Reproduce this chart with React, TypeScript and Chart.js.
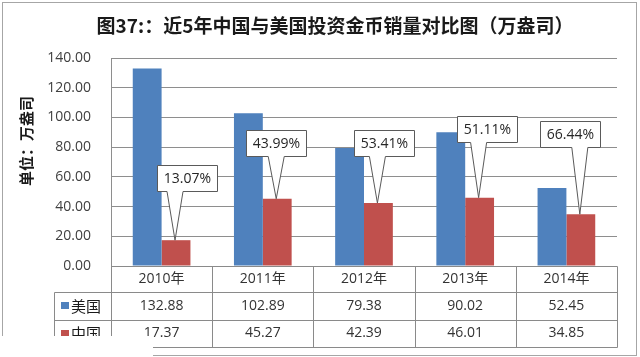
import { useEffect, useRef } from 'react';
import { Chart, registerables } from 'chart.js';

Chart.register(...registerables);

const titleText = '图37:：近5年中国与美国投资金币销量对比图（万盎司）';
const yAxisTitle = '单位：万盎司';
const categories = ['2010年', '2011年', '2012年', '2013年', '2014年'];
const seriesNames = ['美国', '中国'];
const usValues = [132.88, 102.89, 79.38, 90.02, 52.45];
const cnValues = [17.37, 45.27, 42.39, 46.01, 34.85];
const ratioLabels = ['13.07%', '43.99%', '53.41%', '51.11%', '66.44%'];
const yMin = 0;
const yMax = 140;
const yStep = 20;

// callout placement (box centre in axis units, horizontal offset in px from the bar)
const calloutBoxValue = [59.3, 82.7, 82.9, 92.3, 88.6];
const calloutDx = [10.5, -1, 5.7, 7.5, -11.3];

const BLUE = '#4F81BD';
const RED = '#C0504D';
const LATIN = "'Open Sans', 'Noto Sans CJK SC', sans-serif";
const CJK = "'Noto Sans CJK SC', 'Open Sans', sans-serif";
const LINE = '#8a8a8a';

const decorPlugin = {
  id: 'decor',
  beforeDraw(chart: any) {
    const ctx = chart.ctx;
    ctx.save();
    ctx.fillStyle = '#ffffff';
    ctx.fillRect(0, 0, chart.width, chart.height);
    ctx.restore();
  },
  afterDatasetsDraw(chart: any) {
    const ctx = chart.ctx;
    const ys = chart.scales.y;
    const meta = chart.getDatasetMeta(1);
    ctx.save();
    ctx.font = `14px ${LATIN}`;
    ctx.lineWidth = 1;
    ratioLabels.forEach((lab, i) => {
      const bar = meta.data[i];
      if (!bar) return;
      const tipX = bar.x - 1;
      const tipY = bar.y;
      const cx = bar.x + calloutDx[i];
      const cy = ys.getPixelForValue(calloutBoxValue[i]);
      const tw = ctx.measureText(lab).width;
      const w = Math.round(tw + 13);
      const h = 26;
      const l = Math.round(cx - w / 2) + 0.5;
      const t = Math.round(cy - h / 2) + 0.5;
      const r = l + w;
      const b = t + h;
      const bc = Math.min(Math.max(tipX, l + 9), r - 9);
      ctx.beginPath();
      ctx.moveTo(l, t);
      ctx.lineTo(r, t);
      ctx.lineTo(r, b);
      ctx.lineTo(bc + 8, b);
      ctx.lineTo(tipX, tipY);
      ctx.lineTo(bc - 8, b);
      ctx.lineTo(l, b);
      ctx.closePath();
      ctx.fillStyle = '#ffffff';
      ctx.fill();
      ctx.strokeStyle = '#5a5a5a';
      ctx.stroke();
      ctx.fillStyle = '#262626';
      ctx.textAlign = 'center';
      ctx.textBaseline = 'middle';
      ctx.fillText(lab, (l + r) / 2, (t + b) / 2 + 0.5);
    });
    ctx.restore();
  },
  afterDraw(chart: any) {
    const ctx = chart.ctx;
    const area = chart.chartArea;
    const xs = chart.scales.x;
    ctx.save();

    // outer frame
    ctx.strokeStyle = '#a6a6a6';
    ctx.lineWidth = 1;
    ctx.strokeRect(2.5, 2.5, 634, 353);

    // title
    ctx.fillStyle = '#1a1a1a';
    ctx.font = `bold 19px ${CJK}`;
    ctx.textAlign = 'center';
    ctx.textBaseline = 'middle';
    ctx.fillText(titleText, 335, 26);

    // y axis title
    ctx.save();
    ctx.translate(26, 141);
    ctx.rotate(-Math.PI / 2);
    ctx.font = `bold 15px ${CJK}`;
    ctx.fillStyle = '#1a1a1a';
    ctx.fillText(yAxisTitle, 0, 0);
    ctx.restore();

    // data table
    const n = categories.length;
    const cw = (area.right - area.left) / n;
    const top = area.bottom;
    const r1 = top + 26;
    const r2 = r1 + 28;
    const r3 = r2 + 27;
    const legL = 54.5;
    const right = Math.round(area.right) + 0.5;
    ctx.strokeStyle = LINE;
    ctx.lineWidth = 1;
    ctx.beginPath();
    ctx.moveTo(Math.round(area.left) + 0.5, Math.round(top) + 0.5);
    ctx.lineTo(right, Math.round(top) + 0.5);
    [r1, r2, r3].forEach((yy) => {
      ctx.moveTo(legL, Math.round(yy) + 0.5);
      ctx.lineTo(right, Math.round(yy) + 0.5);
    });
    ctx.moveTo(legL, Math.round(r1) + 0.5);
    ctx.lineTo(legL, Math.round(r3) + 0.5);
    for (let i = 0; i <= n; i++) {
      const x = Math.round(xs.getPixelForValue(0) - cw / 2 + i * cw) + 0.5;
      ctx.moveTo(x, Math.round(top) + 0.5);
      ctx.lineTo(x, Math.round(r3) + 0.5);
    }
    ctx.stroke();

    const rows = [usValues, cnValues];
    const colors = [BLUE, RED];
    const rowTops = [r1, r2];
    const rowBots = [r2, r3];
    rows.forEach((vals, k) => {
      const cy = (rowTops[k] + rowBots[k]) / 2;
      ctx.fillStyle = colors[k];
      ctx.fillRect(61, Math.round(cy) - 4, 8, 7);
      ctx.fillStyle = '#1a1a1a';
      ctx.font = `15px ${CJK}`;
      ctx.textAlign = 'left';
      ctx.textBaseline = 'middle';
      ctx.fillText(seriesNames[k], 71, cy);
      ctx.font = `14px ${LATIN}`;
      ctx.textAlign = 'center';
      ctx.fillStyle = '#333333';
      vals.forEach((v, i) => {
        ctx.fillText(v.toFixed(2), xs.getPixelForValue(i), cy);
      });
    });

    // watermark strip
    ctx.fillStyle = '#ffffff';
    ctx.fillRect(0, 336, 153, 21);
    ctx.restore();
  },
};

export default function App() {
  const ref = useRef<HTMLCanvasElement | null>(null);
  useEffect(() => {
    if (!ref.current) return;
    const chart = new Chart(ref.current, {
      type: 'bar',
      data: {
        labels: categories,
        datasets: [
          { label: seriesNames[0], data: usValues, backgroundColor: BLUE, borderWidth: 0 },
          { label: seriesNames[1], data: cnValues, backgroundColor: RED, borderWidth: 0 },
        ],
      },
      options: {
        animation: false,
        responsive: false,
        devicePixelRatio: 1,
        layout: { padding: { top: 58, right: 23, bottom: 65, left: 0 } },
        datasets: { bar: { categoryPercentage: 0.57, barPercentage: 1.0 } },
        plugins: {
          legend: { display: false },
          title: { display: false },
          tooltip: { enabled: false },
        },
        scales: {
          x: {
            grid: { display: false, drawTicks: false },
            border: { display: false },
            ticks: {
              padding: 5,
              color: '#333333',
              font: { family: LATIN, size: 14 },
              maxRotation: 0,
            },
            afterFit: (s: any) => {
              s.height = 26;
            },
          },
          y: {
            min: yMin,
            max: yMax,
            grid: { color: '#8e8e8e', drawTicks: false, lineWidth: 1 },
            border: { display: true, color: '#8e8e8e' },
            ticks: {
              stepSize: yStep,
              padding: 20,
              color: '#404040',
              font: { family: LATIN, size: 14 },
              callback: (v: any) => Number(v).toFixed(2),
            },
            afterFit: (s: any) => {
              s.width = 111;
            },
          },
        },
      },
      plugins: [decorPlugin],
    });
    return () => chart.destroy();
  }, []);
  return (
    <div style={{ position: 'absolute', left: 0, top: 0, width: 640, height: 357 }}>
      <canvas ref={ref} width={640} height={357} style={{ display: 'block' }} />
    </div>
  );
}
